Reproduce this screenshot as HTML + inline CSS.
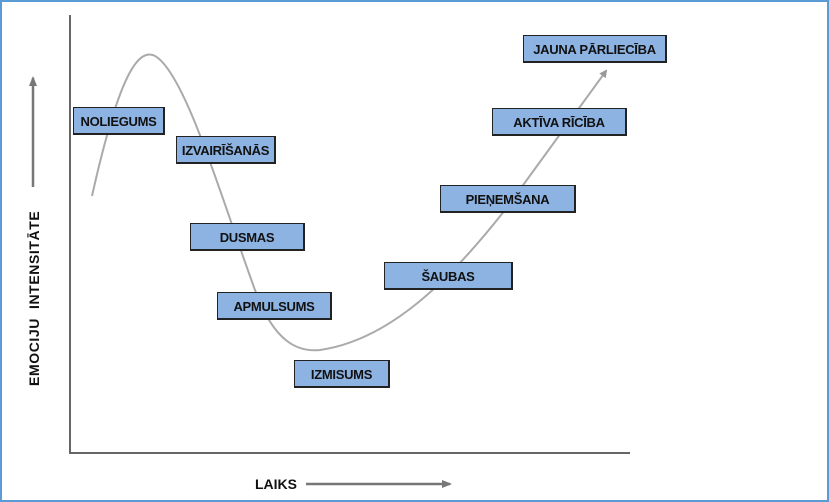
<!DOCTYPE html>
<html><head><meta charset="utf-8"><style>
html,body{margin:0;padding:0;background:#fff}
body{width:829px;height:502px;position:relative;overflow:hidden;font-family:"Liberation Sans",sans-serif}
.frame{position:absolute;left:0;top:0;width:825px;height:498px;border:2px solid #5b9bd5}
.b{position:absolute;height:28px;background:#8db3e2;border:1px solid #222;border-right:2px solid #222;border-bottom:2px solid #222;box-sizing:border-box;font-weight:bold;font-size:13px;line-height:27px;text-align:center;color:#111;letter-spacing:-0.3px}
</style></head><body>
<div class="frame"></div>
<svg width="829" height="502" style="position:absolute;left:0;top:0">
<defs><marker id="a" markerWidth="8" markerHeight="8" refX="6" refY="4" orient="auto" markerUnits="userSpaceOnUse"><path d="M0,0 L8,4 L0,8 z" fill="#999"/></marker>
<marker id="b" markerWidth="10" markerHeight="10" refX="8" refY="5" orient="auto" markerUnits="userSpaceOnUse"><path d="M0,1 L10,5 L0,9 z" fill="#777"/></marker></defs>
<path d="M70,15 L70,453 L630,453" fill="none" stroke="#666" stroke-width="2"/>
<path d="M92,196 C118,80 138,42 158,58 C188,82 222,200 255,290 C275,345 300,352 320,350 C390,340 450,280 505,210 L606,71" fill="none" stroke="#aaa" stroke-width="2" marker-end="url(#a)"/>
<line x1="33" y1="187" x2="33" y2="78" stroke="#777" stroke-width="2.5" marker-end="url(#b)"/>
<line x1="306" y1="484" x2="450" y2="484" stroke="#777" stroke-width="2.5" marker-end="url(#b)"/>
<text x="0" y="0" transform="translate(39,386) rotate(-90)" font-family="Liberation Sans" font-weight="bold" font-size="14" letter-spacing="0.6" fill="#111">EMOCIJU&#160;&#160;INTENSITĀTE</text>
<text x="255" y="489" font-family="Liberation Sans" font-weight="bold" font-size="14" fill="#111">LAIKS</text>
</svg>
<div class="b" style="left:73px;top:107px;width:92px">NOLIEGUMS</div>
<div class="b" style="left:176px;top:136px;width:100px">IZVAIRĪŠANĀS</div>
<div class="b" style="left:190px;top:223px;width:115px">DUSMAS</div>
<div class="b" style="left:217px;top:292px;width:115px">APMULSUMS</div>
<div class="b" style="left:294px;top:360px;width:96px">IZMISUMS</div>
<div class="b" style="left:384px;top:262px;width:129px">ŠAUBAS</div>
<div class="b" style="left:440px;top:185px;width:136px">PIEŅEMŠANA</div>
<div class="b" style="left:492px;top:108px;width:135px">AKTĪVA RĪCĪBA</div>
<div class="b" style="left:523px;top:35px;width:144px">JAUNA PĀRLIECĪBA</div>
</body></html>
